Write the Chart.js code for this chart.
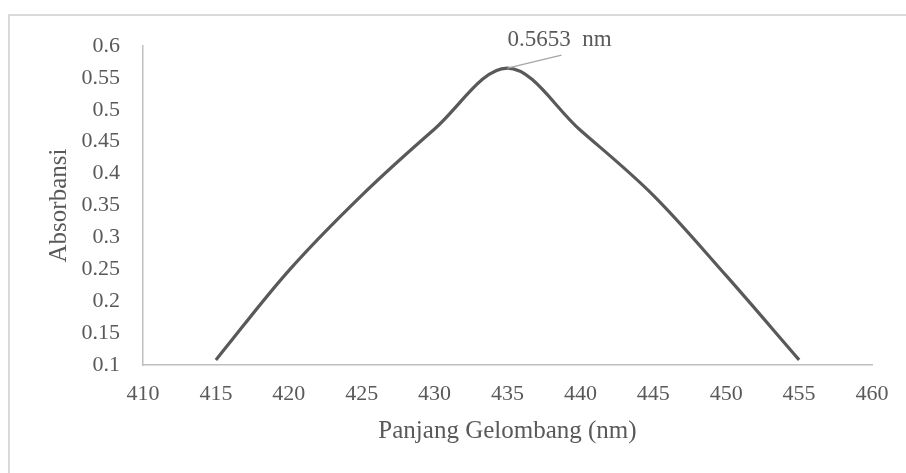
<!DOCTYPE html>
<html>
<head>
<meta charset="utf-8">
<script src="https://cdn.jsdelivr.net/npm/chart.js@4.4.0/dist/chart.umd.min.js"></script>
<style>
  html, body { margin: 0; padding: 0; background: #ffffff; }
  #wrap { position: relative; width: 906px; height: 473px; overflow: hidden; }
  #frame { position: absolute; left: 8px; top: 14px; width: 1000px; height: 1000px;
           border-left: 2px solid #d9d9d9; border-top: 2px solid #d9d9d9; box-sizing: border-box; }
  canvas { position: absolute; left: 0; top: 0; }
</style>
</head>
<body>
<div id="wrap">
  <div id="frame"></div>
  <canvas id="c" width="906" height="473"></canvas>
</div>
<script>
// ---- data ----
const wavelengths = [415, 420, 425, 430, 435, 440, 445, 450, 455];
const absorbance  = [0.108, 0.248, 0.366, 0.470, 0.5653, 0.468, 0.366, 0.240, 0.108];
const xTicks = [410, 415, 420, 425, 430, 435, 440, 445, 450, 455, 460];
const yTicks = [0.1, 0.15, 0.2, 0.25, 0.3, 0.35, 0.4, 0.45, 0.5, 0.55, 0.6];
const peakIndex = 4;
const peakLabel = '0.5653  nm';
const xTitle = 'Panjang Gelombang (nm)';
const yTitle = 'Absorbansi';

const FONT = '"Liberation Serif", "Times New Roman", serif';
const TXT = '#595959';

const peakLabelPlugin = {
  id: 'peakLabel',
  afterDatasetsDraw(chart) {
    const meta = chart.getDatasetMeta(0);
    const pt = meta.data[peakIndex];
    if (!pt) return;
    const ctx = chart.ctx;
    ctx.save();
    ctx.strokeStyle = '#a6a6a6';
    ctx.lineWidth = 1.5;
    ctx.beginPath();
    ctx.moveTo(pt.x, pt.y);
    ctx.lineTo(pt.x + 54, pt.y - 13);
    ctx.stroke();
    ctx.fillStyle = TXT;
    ctx.font = '23px ' + FONT;
    ctx.textBaseline = 'alphabetic';
    ctx.textAlign = 'left';
    ctx.fillText(peakLabel, pt.x, pt.y - 22);
    ctx.restore();
  }
};

new Chart(document.getElementById('c'), {
  type: 'line',
  data: {
    datasets: [{
      data: wavelengths.map((w, i) => ({ x: w, y: absorbance[i] })),
      borderColor: '#595959',
      borderWidth: 3.2,
      pointRadius: 0,
      tension: 0.35,
      fill: false
    }]
  },
  options: {
    responsive: false,
    animation: false,
    devicePixelRatio: 1,
    layout: { padding: { left: 0, top: 46, right: 34, bottom: 0 } },
    plugins: { legend: { display: false }, tooltip: { enabled: false } },
    scales: {
      x: {
        type: 'linear',
        min: 410, max: 460,
        afterBuildTicks(scale) { scale.ticks = xTicks.map(v => ({ value: v })); },
        afterFit(scale) { scale.height = 108; },
        grid: { display: true, color: 'transparent', drawTicks: false },
        border: { display: true, color: '#bfbfbf', width: 1.5 },
        ticks: { color: TXT, font: { family: FONT, size: 22 }, padding: 16, maxRotation: 0, autoSkip: false },
        title: { display: true, text: xTitle, color: TXT, font: { family: FONT, size: 25 }, padding: { top: 0, bottom: 27 } }
      },
      y: {
        type: 'linear',
        min: 0.1, max: 0.6,
        afterBuildTicks(scale) { scale.ticks = yTicks.map(v => ({ value: v })); },
        afterFit(scale) { scale.width = 143; },
        grid: { display: true, color: 'transparent', drawTicks: false },
        border: { display: true, color: '#bfbfbf', width: 1.5 },
        ticks: { color: TXT, font: { family: FONT, size: 22 }, padding: 23, autoSkip: false,
                 callback: (v) => String(Math.round(v * 100) / 100) },
        title: { display: true, text: yTitle, color: TXT, font: { family: FONT, size: 25 }, padding: { top: 44, bottom: 0 } }
      }
    }
  },
  plugins: [peakLabelPlugin]
});
</script>
</body>
</html>
